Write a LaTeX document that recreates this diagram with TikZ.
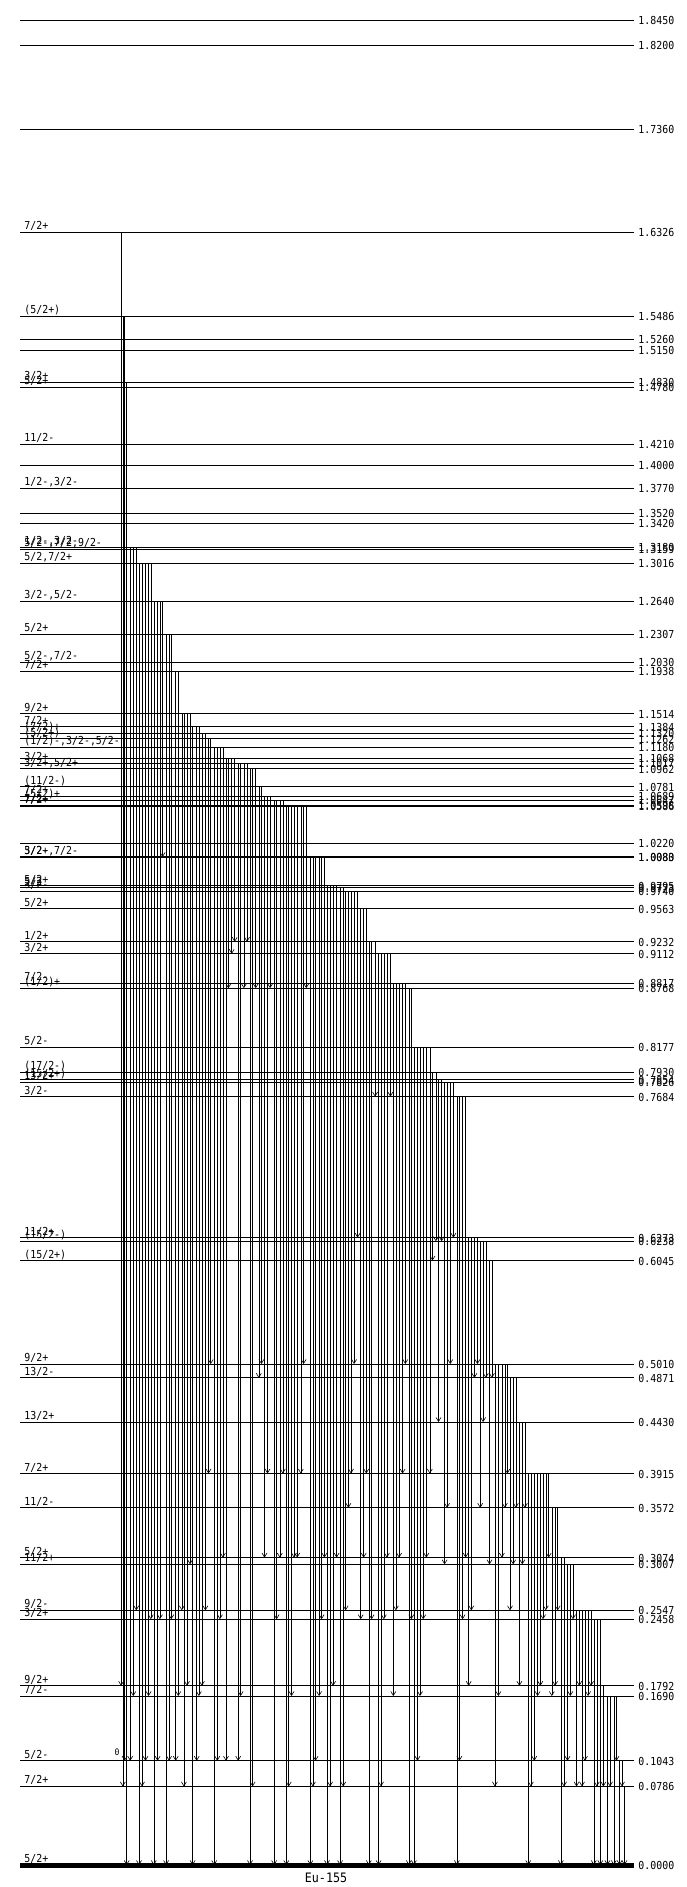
\documentclass[tikz,border=0pt]{standalone}
\usepackage{fontspec}
\newfontfamily\lvlfont[FakeStretch=0.9]{DejaVu Sans Mono}
\usetikzlibrary{arrows.meta}
\tikzset{
    lvl/.style={line width=0.9pt},
    gam/.style={line width=0.6pt,
           -{Straight Barb[length=4pt,width=5pt,line width=0.6pt]}},
    spin/.style={anchor=base west, inner sep=0pt, xshift=4pt, yshift=2.5pt,
           font=\lvlfont\fontsize{11}{11}\selectfont},
    elab/.style={anchor=west, inner sep=0pt, xshift=4pt, yshift=-0.5pt,
           font=\lvlfont\fontsize{11}{11}\selectfont},
}
\begin{document}
\begin{tikzpicture}[x=1pt,y=-1pt]
\useasboundingbox (0,0) rectangle (687,1887);
\foreach \n/\E/\J in {18450/1.8450/{},18200/1.8200/{},17360/1.7360/{},
  16326/1.6326/{7/2+},15486/1.5486/{(5/2+)},15260/1.5260/{},15150/1.5150/{},
  14830/1.4830/{3/2+},14780/1.4780/{5/2+},14210/1.4210/{11/2-},14000/1.4000/{},
  13770/1.3770/{1/2-,3/2-},13520/1.3520/{},13420/1.3420/{},
  13180/1.3180/{1/2-,3/2-},13159/1.3159/{5/2-,7/2,9/2-},
  13016/1.3016/{5/2,7/2+},12640/1.2640/{3/2-,5/2-},12307/1.2307/{5/2+},
  12030/1.2030/{5/2-,7/2-},11938/1.1938/{7/2+},11514/1.1514/{9/2+},
  11384/1.1384/{7/2+},11320/1.1320/{(7/2)+},11262/1.1262/{(5/2+)},
  11180/1.1180/{(1/2)-,3/2-,5/2-},11068/1.1068/{},11017/1.1017/{3/2+},
  10962/1.0962/{3/2+,5/2+},10781/1.0781/{(11/2-)},10689/1.0689/{7/2+},
  10647/1.0647/{(5/2)+},10598/1.0598/{7/2+},10586/1.0586/{7/2+},
  10220/1.0220/{},10083/1.0083/{3/2-},10080/1.0080/{5/2+,7/2-},
  9795/0.9795/{5/2+},9773/0.9773/{5/2},9740/0.9740/{3/2-},
  9563/0.9563/{5/2+},9232/0.9232/{1/2+},9112/0.9112/{3/2+},
  8817/0.8817/{7/2-},8768/0.8768/{(1/2)+},8177/0.8177/{5/2-},
  7930/0.7930/{(17/2-)},7854/0.7854/{(15/2+)},7826/0.7826/{13/2+},
  7684/0.7684/{3/2-},6273/0.6273/{11/2+},6238/0.6238/{(15/2-)},
  6045/0.6045/{(15/2+)},5010/0.5010/{9/2+},4871/0.4871/{13/2-},
  4430/0.4430/{13/2+},3915/0.3915/{7/2+},3572/0.3572/{11/2-},
  3074/0.3074/{5/2+},3007/0.3007/{11/2+},2547/0.2547/{9/2-},
  2458/0.2458/{3/2+},1792/0.1792/{9/2+},1690/0.1690/{7/2-},
  1043/0.1043/{5/2-},786/0.0786/{7/2+},0/0.0000/{5/2+}}{
  \coordinate (l\n) at (20,{1865-1000*\E});
  \draw[lvl] (l\n) node[spin] (j\n) {\J} -- ++(614,0) node[elab] (e\n) {\E};
}
\draw[line width=5pt] (l0) -- ++(614,0);
% gamma transitions, left to right
\foreach \x/\a/\b in {121.1/16326/1792,122.8/15486/786,124.6/15486/1043,
  126.7/14830/0,130.2/13180/1043,133.3/13180/1690,136.3/13180/2547,
  139.0/13016/0,142.0/13016/786,145.5/13016/1043,148.6/13016/1690,
  150.8/13016/2458,153.8/12640/0,157.6/12640/1043,159.9/12640/2458,
  162.6/12640/10080,166.1/12307/0,169.1/12307/1043,171.3/12307/2458,
  175.7/11938/1043,178.3/11938/1690,181.8/11514/2547,183.9/11514/786,
  187.0/11514/1792,190.1/11514/3007,192.6/11384/0,196.7/11384/1043,
  198.9/11384/1690,201.9/11320/1792,205.4/11320/2547,208.5/11262/3915,
  210.7/11262/5010,214.2/11180/0,217.3/11180/1043,219.9/11180/2458,
  222.9/11180/3074,226.0/11068/1043,228.4/11068/8768,231.7/11068/9112,
  234.7/11068/9232,238.2/11017/1043,240.6/11017/1690,243.9/11017/8768,
  247.0/11017/9232,250.0/10962/0,252.6/10962/786,255.7/10962/8768,
  258.8/10781/4871,261.4/10781/5010,264.5/10689/3074,267.5/10689/3915,
  270.1/10689/8768,274.1/10647/0,276.6/10647/2458,279.8/10647/3074,
  282.8/10647/3915,286.3/10598/0,288.7/10598/786,291.5/10598/1690,
  294.0/10598/3074,297.2/10598/3074,300.8/10598/3915,303.6/10598/5010,
  306.3/10598/8768,310.4/10080/0,312.9/10080/786,315.6/10080/1043,
  319.1/10080/1690,321.6/10080/2458,324.4/10080/3074,327.0/9795/0,
  330.1/9795/786,333.1/9795/1792,336.6/9795/3074,340.1/9773/0,
  343.2/9773/786,345.7/9740/2547,348.4/9740/3572,351.0/9740/3915,
  354.1/9740/5010,357.6/9740/6273,360.7/9563/2458,363.7/9563/3074,
  366.3/9563/3915,368.8/9232/0,371.6/9232/2458,375.1/9232/7684,
  378.6/9112/0,381.0/9112/786,383.8/9112/2458,386.9/9112/3074,
  390.4/9112/7684,393.3/8817/1690,395.9/8817/2547,399.1/8817/3074,
  402.6/8817/3915,405.3/8817/5010,408.8/8768/0,411.3/8768/2458,
  413.9/8177/0,417.5/8177/1043,420.0/8177/1690,423.2/8177/2458,
  426.3/8177/3074,429.8/8177/3915,432.5/7930/6045,435.9/7930/6238,
  438.5/7854/4430,441.6/7854/6238,444.6/7826/3007,447.1/7826/3572,
  450.3/7826/5010,453.4/7826/6273,456.9/7684/0,459.4/7684/1043,
  462.6/7684/2458,465.6/7684/3074,468.7/6273/1792,471.3/6273/2547,
  474.4/6273/4871,477.4/6273/5010,480.2/6238/3572,483.1/6238/4430,
  485.8/6238/4871,489.5/6045/3007,491.9/6045/4871,494.9/5010/786,
  498.4/5010/1690,501.9/5010/3074,504.8/5010/3572,507.4/5010/3915,
  510.0/4871/2547,513.2/4871/3007,515.9/4871/3572,519.4/4430/1792,
  522.3/4430/3007,524.9/4430/3572,528.2/3915/0,530.8/3915/786,
  534.3/3915/1043,537.6/3915/1690,540.3/3915/1792,543.0/3915/2458,
  545.8/3915/2547,548.7/3915/3074,551.8/3572/1690,555.1/3572/1792,
  557.7/3572/2547,560.9/3074/0,564.0/3074/786,567.5/3007/1043,
  570.3/3007/1690,573.0/3007/2458,576.6/2547/786,579.3/2547/1792,
  582.0/2547/786,585.0/2547/1043,588.1/2547/1690,591.1/2547/1792,
  593.8/2458/0,596.8/2458/786,600.3/2458/0,603.4/1792/786,
  607.4/1690/0,610.0/1690/786,613.8/1690/0,616.5/1690/1043,
  619.6/1043/0,622.0/1043/786,624.4/786/0}
  \draw[gam] (\x,0 |- l\a) -- (\x,0 |- l\b);
\node[font=\lvlfont\fontsize{9}{9}\selectfont] (zero) at (117,1752) {0};
\node[font=\lvlfont\fontsize{13}{13}\selectfont] (nuc) at (326,1878) {Eu-155};
\end{tikzpicture}
\end{document}
